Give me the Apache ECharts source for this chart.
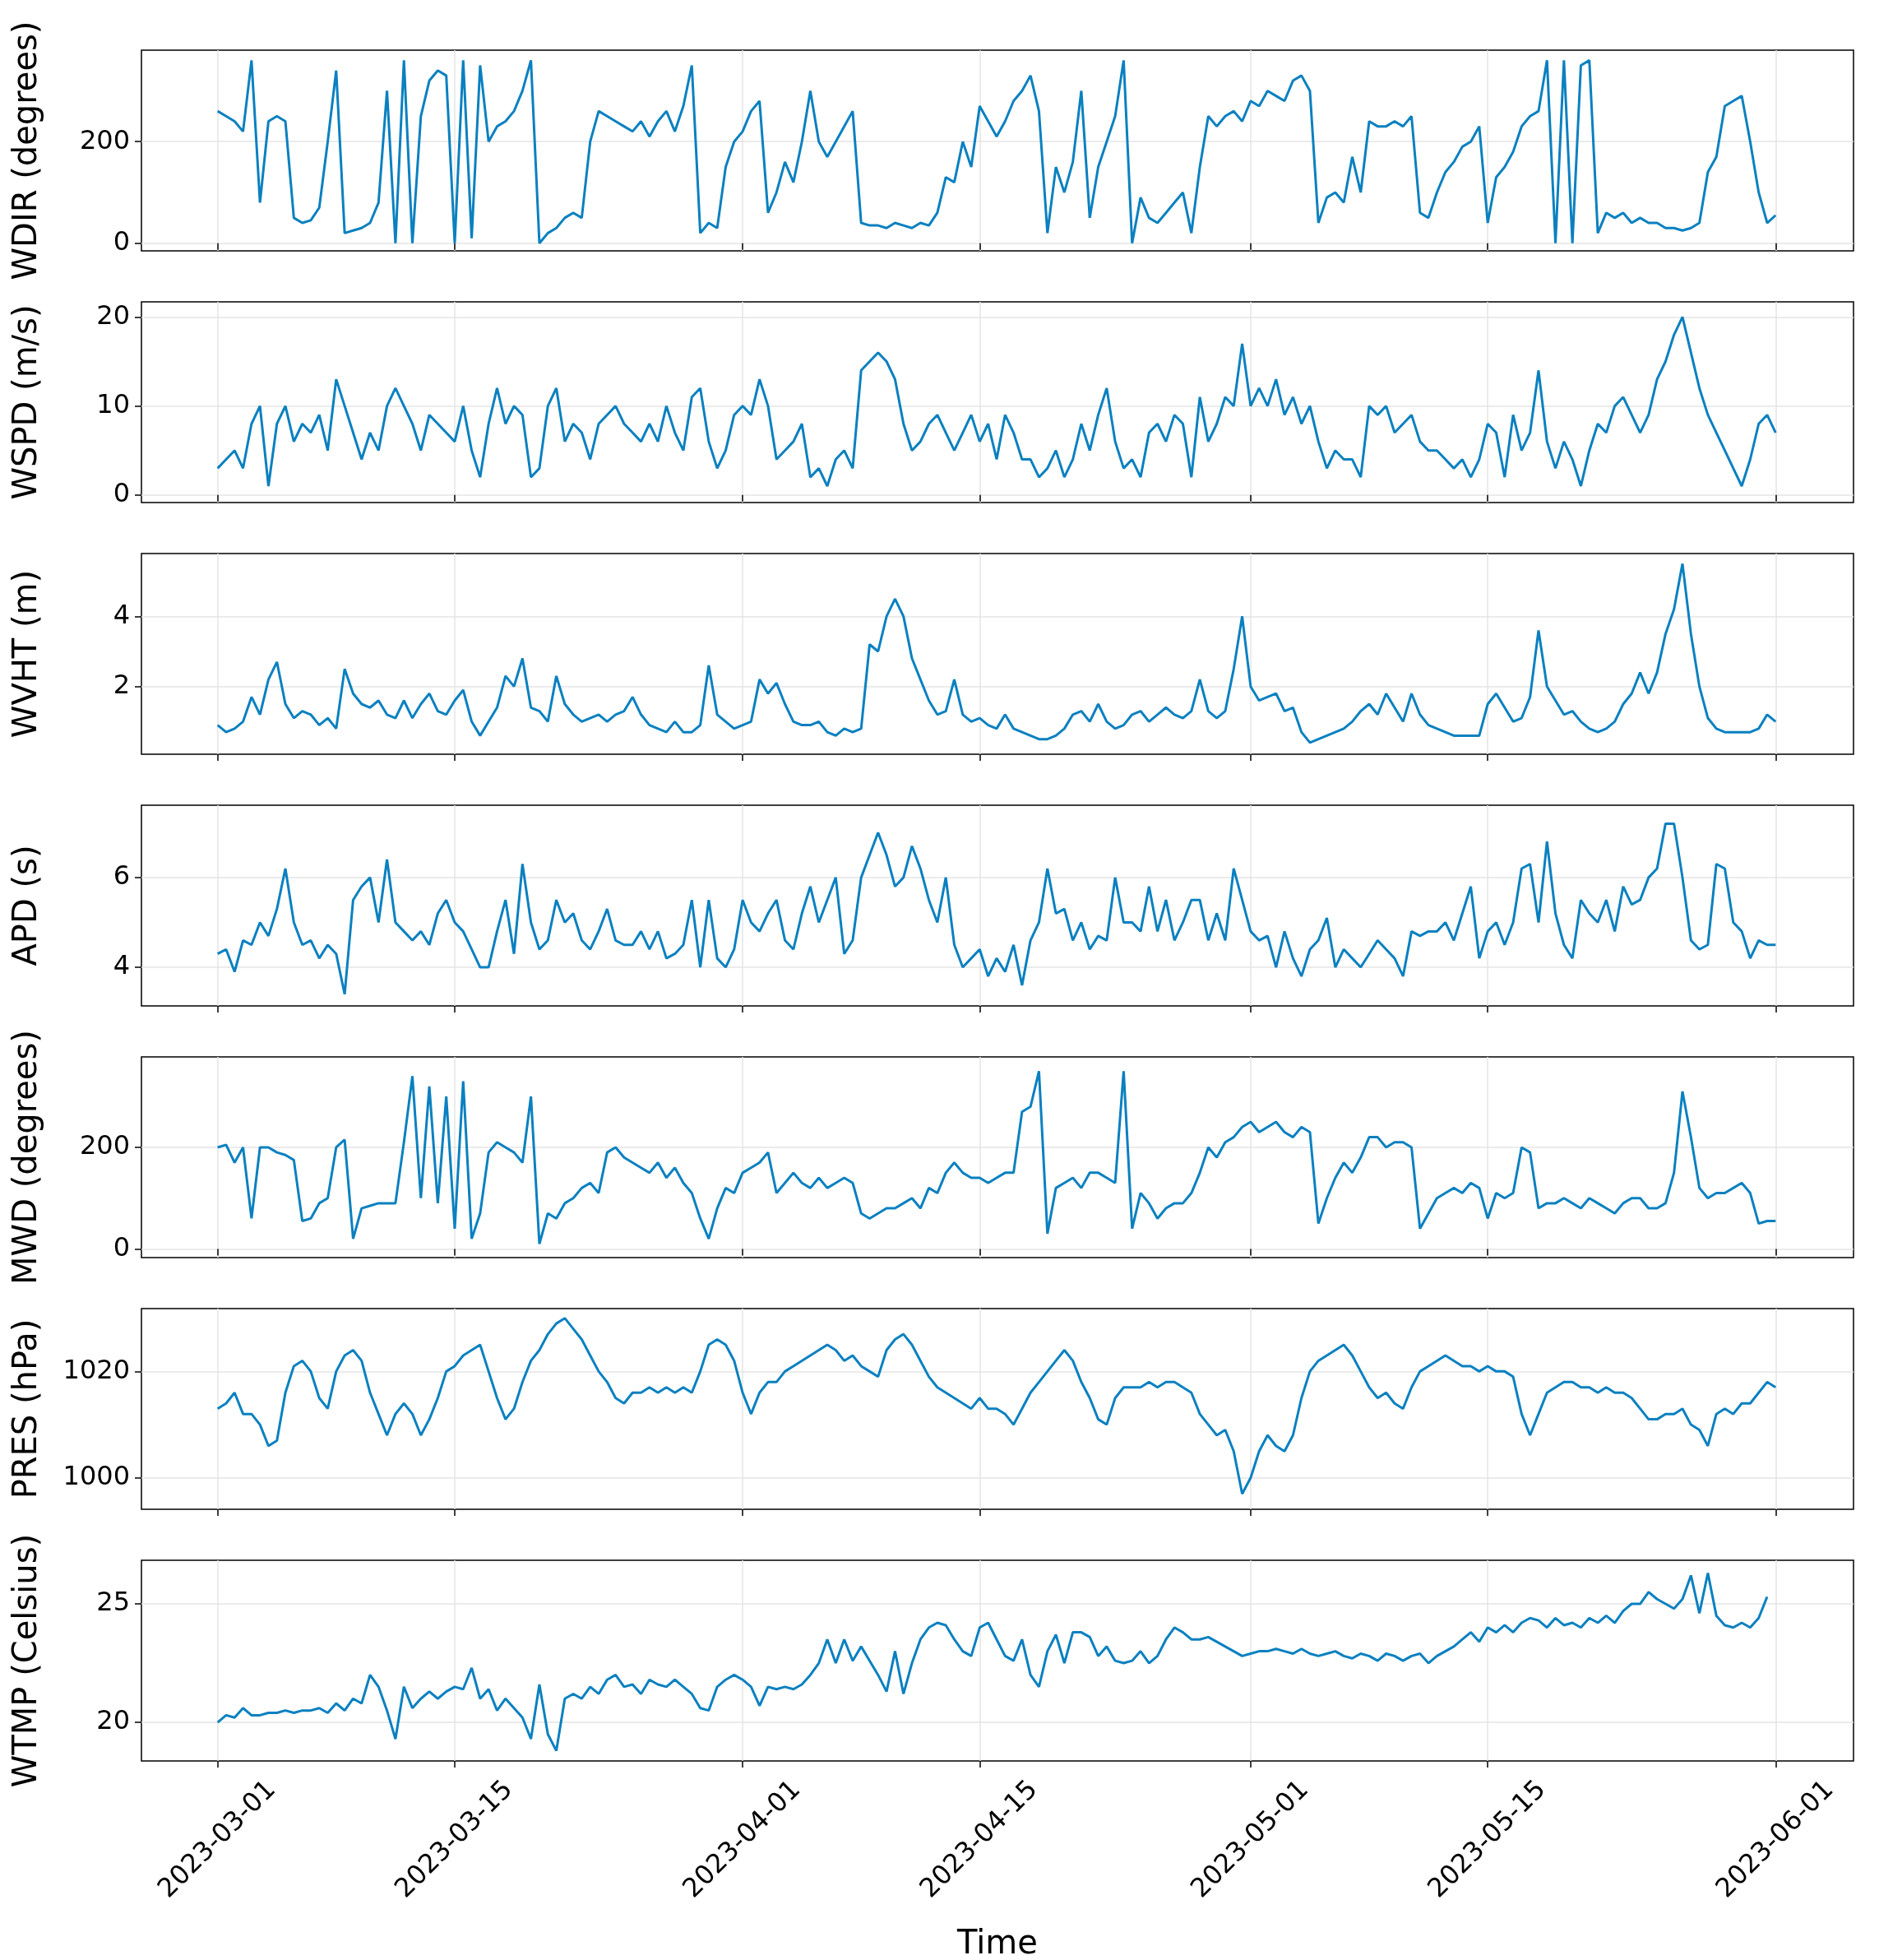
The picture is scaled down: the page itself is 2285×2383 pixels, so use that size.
<!DOCTYPE html>
<html><head><meta charset="utf-8">
<script src="https://cdn.jsdelivr.net/npm/echarts@6/dist/echarts.min.js"></script>
<style>html,body{margin:0;padding:0;background:#fff}#c{width:2285px;height:2383px}</style>
</head><body><div id="c"></div>
<script>
// 12-hourly samples starting 2023-03-01 00:00
const startTime = '2023-03-01T00:00:00Z';
const WDIR = [260,250,240,220,360,80,240,250,240,50,40,45,70,200,340,20,25,30,40,80,300,0,360,0,250,320,340,330,0,360,10,350,200,230,240,260,300,360,0,20,30,50,60,50,200,260,250,240,230,220,240,210,240,260,220,270,350,20,40,30,150,200,220,260,280,60,100,160,120,200,300,200,170,200,230,260,40,35,35,30,40,35,30,40,35,60,130,120,200,150,270,240,210,240,280,300,330,260,20,150,100,160,300,50,150,200,250,360,0,90,50,40,60,80,100,20,150,250,230,250,260,240,280,270,300,290,280,320,330,300,40,90,100,80,170,100,240,230,230,240,230,250,60,50,100,140,160,190,200,230,40,130,150,180,230,250,260,360,0,360,0,350,360,20,60,50,60,40,50,40,40,30,30,25,30,40,140,170,270,280,290,200,100,40,55];
const WSPD = [3,4,5,3,8,10,1,8,10,6,8,7,9,5,13,10,7,4,7,5,10,12,10,8,5,9,8,7,6,10,5,2,8,12,8,10,9,2,3,10,12,6,8,7,4,8,9,10,8,7,6,8,6,10,7,5,11,12,6,3,5,9,10,9,13,10,4,5,6,8,2,3,1,4,5,3,14,15,16,15,13,8,5,6,8,9,7,5,7,9,6,8,4,9,7,4,4,2,3,5,2,4,8,5,9,12,6,3,4,2,7,8,6,9,8,2,11,6,8,11,10,17,10,12,10,13,9,11,8,10,6,3,5,4,4,2,10,9,10,7,8,9,6,5,5,4,3,4,2,4,8,7,2,9,5,7,14,6,3,6,4,1,5,8,7,10,11,9,7,9,13,15,18,20,16,12,9,7,5,3,1,4,8,9,7];
const WVHT = [0.9,0.7,0.8,1.0,1.7,1.2,2.2,2.7,1.5,1.1,1.3,1.2,0.9,1.1,0.8,2.5,1.8,1.5,1.4,1.6,1.2,1.1,1.6,1.1,1.5,1.8,1.3,1.2,1.6,1.9,1.0,0.6,1.0,1.4,2.3,2.0,2.8,1.4,1.3,1.0,2.3,1.5,1.2,1.0,1.1,1.2,1.0,1.2,1.3,1.7,1.2,0.9,0.8,0.7,1.0,0.7,0.7,0.9,2.6,1.2,1.0,0.8,0.9,1.0,2.2,1.8,2.1,1.5,1.0,0.9,0.9,1.0,0.7,0.6,0.8,0.7,0.8,3.2,3.0,4.0,4.5,4.0,2.8,2.2,1.6,1.2,1.3,2.2,1.2,1.0,1.1,0.9,0.8,1.2,0.8,0.7,0.6,0.5,0.5,0.6,0.8,1.2,1.3,1.0,1.5,1.0,0.8,0.9,1.2,1.3,1.0,1.2,1.4,1.2,1.1,1.3,2.2,1.3,1.1,1.3,2.5,4.0,2.0,1.6,1.7,1.8,1.3,1.4,0.7,0.4,0.5,0.6,0.7,0.8,1.0,1.3,1.5,1.2,1.8,1.4,1.0,1.8,1.2,0.9,0.8,0.7,0.6,0.6,0.6,0.6,1.5,1.8,1.4,1.0,1.1,1.7,3.6,2.0,1.6,1.2,1.3,1.0,0.8,0.7,0.8,1.0,1.5,1.8,2.4,1.8,2.4,3.5,4.2,5.5,3.5,2.0,1.1,0.8,0.7,0.7,0.7,0.7,0.8,1.2,1.0];
const APD = [4.3,4.4,3.9,4.6,4.5,5.0,4.7,5.3,6.2,5.0,4.5,4.6,4.2,4.5,4.3,3.4,5.5,5.8,6.0,5.0,6.4,5.0,4.8,4.6,4.8,4.5,5.2,5.5,5.0,4.8,4.4,4.0,4.0,4.8,5.5,4.3,6.3,5.0,4.4,4.6,5.5,5.0,5.2,4.6,4.4,4.8,5.3,4.6,4.5,4.5,4.8,4.4,4.8,4.2,4.3,4.5,5.5,4.0,5.5,4.2,4.0,4.4,5.5,5.0,4.8,5.2,5.5,4.6,4.4,5.2,5.8,5.0,5.5,6.0,4.3,4.6,6.0,6.5,7.0,6.5,5.8,6.0,6.7,6.2,5.5,5.0,6.0,4.5,4.0,4.2,4.4,3.8,4.2,3.9,4.5,3.6,4.6,5.0,6.2,5.2,5.3,4.6,5.0,4.4,4.7,4.6,6.0,5.0,5.0,4.8,5.8,4.8,5.5,4.6,5.0,5.5,5.5,4.6,5.2,4.6,6.2,5.5,4.8,4.6,4.7,4.0,4.8,4.2,3.8,4.4,4.6,5.1,4.0,4.4,4.2,4.0,4.3,4.6,4.4,4.2,3.8,4.8,4.7,4.8,4.8,5.0,4.6,5.2,5.8,4.2,4.8,5.0,4.5,5.0,6.2,6.3,5.0,6.8,5.2,4.5,4.2,5.5,5.2,5.0,5.5,4.8,5.8,5.4,5.5,6.0,6.2,7.2,7.2,6.0,4.6,4.4,4.5,6.3,6.2,5.0,4.8,4.2,4.6,4.5,4.5];
const MWD = [200,205,170,200,60,200,200,190,185,175,55,60,90,100,200,215,20,80,85,90,90,90,210,340,100,320,90,300,40,330,20,70,190,210,200,190,170,300,10,70,60,90,100,120,130,110,190,200,180,170,160,150,170,140,160,130,110,60,20,80,120,110,150,160,170,190,110,130,150,130,120,140,120,130,140,130,70,60,70,80,80,90,100,80,120,110,150,170,150,140,140,130,140,150,150,270,280,350,30,120,130,140,120,150,150,140,130,350,40,110,90,60,80,90,90,110,150,200,180,210,220,240,250,230,240,250,230,220,240,230,50,100,140,170,150,180,220,220,200,210,210,200,40,70,100,110,120,110,130,120,60,110,100,110,200,190,80,90,90,100,90,80,100,90,80,70,90,100,100,80,80,90,150,310,220,120,100,110,110,120,130,110,50,55,55];
const PRES = [1013,1014,1016,1012,1012,1010,1006,1007,1016,1021,1022,1020,1015,1013,1020,1023,1024,1022,1016,1012,1008,1012,1014,1012,1008,1011,1015,1020,1021,1023,1024,1025,1020,1015,1011,1013,1018,1022,1024,1027,1029,1030,1028,1026,1023,1020,1018,1015,1014,1016,1016,1017,1016,1017,1016,1017,1016,1020,1025,1026,1025,1022,1016,1012,1016,1018,1018,1020,1021,1022,1023,1024,1025,1024,1022,1023,1021,1020,1019,1024,1026,1027,1025,1022,1019,1017,1016,1015,1014,1013,1015,1013,1013,1012,1010,1013,1016,1018,1020,1022,1024,1022,1018,1015,1011,1010,1015,1017,1017,1017,1018,1017,1018,1018,1017,1016,1012,1010,1008,1009,1005,997,1000,1005,1008,1006,1005,1008,1015,1020,1022,1023,1024,1025,1023,1020,1017,1015,1016,1014,1013,1017,1020,1021,1022,1023,1022,1021,1021,1020,1021,1020,1020,1019,1012,1008,1012,1016,1017,1018,1018,1017,1017,1016,1017,1016,1016,1015,1013,1011,1011,1012,1012,1013,1010,1009,1006,1012,1013,1012,1014,1014,1016,1018,1017];
const WTMP = [20.0,20.3,20.2,20.6,20.3,20.3,20.4,20.4,20.5,20.4,20.5,20.5,20.6,20.4,20.8,20.5,21.0,20.8,22.0,21.5,20.5,19.3,21.5,20.6,21.0,21.3,21.0,21.3,21.5,21.4,22.3,21.0,21.4,20.5,21.0,20.6,20.2,19.3,21.6,19.5,18.8,21.0,21.2,21.0,21.5,21.2,21.8,22.0,21.5,21.6,21.2,21.8,21.6,21.5,21.8,21.5,21.2,20.6,20.5,21.5,21.8,22.0,21.8,21.5,20.7,21.5,21.4,21.5,21.4,21.6,22.0,22.5,23.5,22.5,23.5,22.6,23.2,22.6,22.0,21.3,23.0,21.2,22.5,23.5,24.0,24.2,24.1,23.5,23.0,22.8,24.0,24.2,23.5,22.8,22.6,23.5,22.0,21.5,23.0,23.7,22.5,23.8,23.8,23.6,22.8,23.2,22.6,22.5,22.6,23.0,22.5,22.8,23.5,24.0,23.8,23.5,23.5,23.6,23.4,23.2,23.0,22.8,22.9,23.0,23.0,23.1,23.0,22.9,23.1,22.9,22.8,22.9,23.0,22.8,22.7,22.9,22.8,22.6,22.9,22.8,22.6,22.8,22.9,22.5,22.8,23.0,23.2,23.5,23.8,23.4,24.0,23.8,24.1,23.8,24.2,24.4,24.3,24.0,24.4,24.1,24.2,24.0,24.4,24.2,24.5,24.2,24.7,25.0,25.0,25.5,25.2,25.0,24.8,25.2,26.2,24.6,26.3,24.5,24.1,24.0,24.2,24.0,24.4,25.3];

const panels = [
  {name:'WDIR (degrees)', data:WDIR, min:-15, max:380, ticks:[0,200]},
  {name:'WSPD (m/s)', data:WSPD, min:-0.85, max:21.7, ticks:[0,10,20]},
  {name:'WVHT (m)', data:WVHT, min:0.07, max:5.79, ticks:[2,4]},
  {name:'APD (s)', data:APD, min:3.14, max:7.61, ticks:[4,6]},
  {name:'MWD (degrees)', data:MWD, min:-17, max:378, ticks:[0,200]},
  {name:'PRES (hPa)', data:PRES, min:994.1, max:1031.8, ticks:[1000,1020]},
  {name:'WTMP (Celsius)', data:WTMP, min:18.37, max:26.84, ticks:[20,25]}
];
const xTickLabels = ['2023-03-01','2023-03-15','2023-04-01','2023-04-15','2023-05-01','2023-05-15','2023-06-01'];

const t0 = Date.parse(startTime);
const H12 = 12*3600*1000;
const tEnd = Date.parse('2023-06-01T00:00:00Z');
const xTicks = xTickLabels.map(s => Date.parse(s+'T00:00:00Z'));
const xMin = t0 - 4.5*24*3600*1000, xMax = t0 + 96.6*24*3600*1000;
const color = '#0a80c0';
const font = 'DejaVu Sans';
const fmtDate = v=>{const d=new Date(v);return d.getUTCFullYear()+'-'+String(d.getUTCMonth()+1).padStart(2,'0')+'-'+String(d.getUTCDate()).padStart(2,'0');};
const grids=[], xAxes=[], yAxes=[], series=[];
panels.forEach((p,i)=>{
  const last = i===panels.length-1;
  grids.push({left:172, right:31, top:61+i*306, height:244, show:true, borderColor:'#000', borderWidth:1.5, containLabel:false, outerBoundsMode:'none'});
  xAxes.push({type:'value', gridIndex:i, min:xMin, max:xMax, scale:true,
    axisLine:{show:false},
    axisTick:{show:true, length:8, lineStyle:{color:'#000', width:1.5}, customValues:xTicks},
    axisLabel:{show:last, customValues:xTicks, rotate:45, align:'center', verticalAlign:'middle', fontSize:32, fontFamily:font, color:'#000', margin:96, formatter:fmtDate},
    splitLine:{show:true, lineStyle:{color:'#e4e4e4', width:1.5}},
    name:last?'Time':'', nameLocation:'middle', nameGap:204, nameTextStyle:{fontSize:40, fontFamily:font, color:'#000'}
  });
  yAxes.push({type:'value', gridIndex:i, min:p.min, max:p.max,
    axisLine:{show:false},
    axisTick:{show:true, length:8, lineStyle:{color:'#000', width:1.5}, customValues:p.ticks},
    axisLabel:{customValues:p.ticks, fontSize:32, fontFamily:font, color:'#000', margin:14, formatter:v=>String(v)},
    splitLine:{show:true, lineStyle:{color:'#e4e4e4', width:1.5}},
    name:p.name, nameLocation:'middle', nameGap:118, nameRotate:90, nameTextStyle:{fontSize:40, fontFamily:font, color:'#000'}
  });
  series.push({type:'line', xAxisIndex:i, yAxisIndex:i, showSymbol:false, symbol:'none', animation:false,
    lineStyle:{color:color, width:3},
    data:p.data.map((v,k)=>[t0+k*H12, v]).filter(d=>d[0]<=tEnd)});
});
const chart = echarts.init(document.getElementById('c'));
chart.setOption({animation:false, backgroundColor:'#fff', grid:grids, xAxis:xAxes, yAxis:yAxes, series:series});
</script></body></html>
